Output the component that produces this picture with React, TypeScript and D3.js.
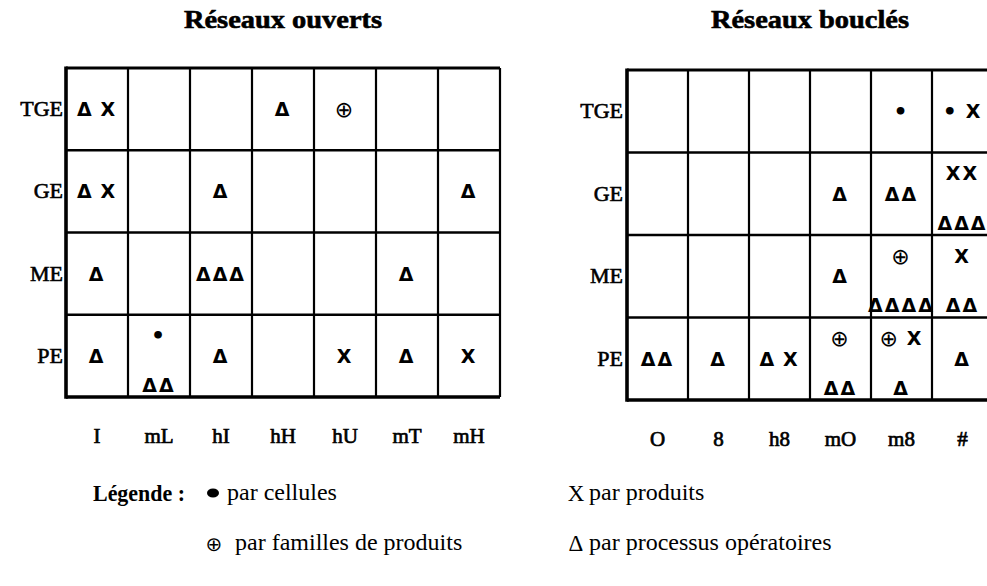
import React from "react";
import * as d3 from "d3";

const rows = ["TGE", "GE", "ME", "PE"];
const openCols = ["I", "mL", "hI", "hH", "hU", "mT", "mH"];
const loopCols = ["O", "8", "h8", "mO", "m8", "#"];

// [row, col, top, middle, bottom]
const openCells = [
  ["TGE", "I", "", "Δ X", ""],
  ["TGE", "hH", "", "Δ", ""],
  ["TGE", "hU", "", "⊕", ""],
  ["GE", "I", "", "Δ X", ""],
  ["GE", "hI", "", "Δ", ""],
  ["GE", "mH", "", "Δ", ""],
  ["ME", "I", "", "Δ", ""],
  ["ME", "hI", "", "ΔΔΔ", ""],
  ["ME", "mT", "", "Δ", ""],
  ["PE", "I", "", "Δ", ""],
  ["PE", "mL", "•", "", "ΔΔ"],
  ["PE", "hI", "", "Δ", ""],
  ["PE", "hU", "", "X", ""],
  ["PE", "mT", "", "Δ", ""],
  ["PE", "mH", "", "X", ""],
];

const loopCells = [
  ["TGE", "m8", "", "•", ""],
  ["TGE", "#", "", "• X", ""],
  ["GE", "mO", "", "Δ", ""],
  ["GE", "m8", "", "ΔΔ", ""],
  ["GE", "#", "XX", "", "ΔΔΔ"],
  ["ME", "mO", "", "Δ", ""],
  ["ME", "m8", "⊕", "", "ΔΔΔΔ"],
  ["ME", "#", "X", "", "ΔΔ"],
  ["PE", "O", "", "ΔΔ", ""],
  ["PE", "8", "", "Δ", ""],
  ["PE", "h8", "", "Δ X", ""],
  ["PE", "mO", "⊕", "", "ΔΔ"],
  ["PE", "m8", "⊕ X", "", "Δ"],
  ["PE", "#", "", "Δ", ""],
];

const legendItems = [
  ["●", "par cellules"],
  ["X", "par produits"],
  ["⊕", "par familles de produits"],
  ["Δ", "par processus opératoires"],
];

const serif = "'Liberation Serif', 'Times New Roman', serif";
const sym = "'DejaVu Sans', sans-serif";
const glyphSize = { "Δ": 19, X: 19, "⊕": 22, "•": 22, " ": 14 };

function Grid({ title, cols, cells, x0, x1, y0, y1, labelX }) {
  const x = d3.scaleBand().domain(cols).range([x0, x1]);
  const y = d3.scaleBand().domain(rows).range([y0, y1]);
  const bw = x.bandwidth();
  const bh = y.bandwidth();
  return (
    <g>
      <text x={(x0 + x1) / 2} y={28} textAnchor="middle" fontFamily={serif}
        fontWeight="bold" fontSize={25} textLength={198} lengthAdjust="spacingAndGlyphs"
        stroke="#000" strokeWidth={0.6}>
        {title}
      </text>
      {rows.map((r) => (
        <text key={r} x={labelX} y={y(r) + bh / 2 + 7} textAnchor="end"
          fontFamily={serif} fontSize={22} stroke="#000" strokeWidth={0.6}>
          {r}
        </text>
      ))}
      {cols.map((c) => (
        <text key={c} x={x(c) + bw / 2} y={y1 + 46} textAnchor="middle"
          fontFamily={serif} fontSize={21} stroke="#000" strokeWidth={0.7}>
          {c}
        </text>
      ))}
      {cols.slice(1).map((c) => (
        <line key={c} x1={x(c)} x2={x(c)} y1={y0} y2={y1} stroke="#000" strokeWidth={2.2} />
      ))}
      <line x1={x1} x2={x1} y1={y0} y2={y1} stroke="#000" strokeWidth={2.2} />
      {rows.slice(1).map((r) => (
        <line key={r} x1={x0} x2={x1} y1={y(r)} y2={y(r)} stroke="#000" strokeWidth={2.4} />
      ))}
      <line x1={x0} x2={x1} y1={y0} y2={y0} stroke="#000" strokeWidth={2.8} />
      <line x1={x0} x2={x1} y1={y1} y2={y1} stroke="#000" strokeWidth={3.6} />
      <line x1={x0} x2={x0} y1={y0 - 1.4} y2={y1 + 1.8} stroke="#000" strokeWidth={3.6} />
      {cells.map(([r, c, top, mid, bot], i) => {
        const cx = x(c) + bw / 2;
        const parts = [
          [top, 0.25],
          [mid, 0.5],
          [bot, 0.85],
        ];
        return parts
          .filter((p) => p[0])
          .map(([s, f], j) => (
            <text key={i + "-" + j} x={cx} y={y(r) + bh * f} textAnchor="middle"
              dominantBaseline="central" fontFamily={sym} fontWeight="bold"
              letterSpacing={2}>
              {s.split("").map((ch, k) => (
                <tspan key={k} fontSize={glyphSize[ch]}
                  fontWeight={ch === "⊕" ? "normal" : "bold"}>
                  {ch}
                </tspan>
              ))}
            </text>
          ));
      })}
    </g>
  );
}

export default function App() {
  const legendX = [207, 569, 207, 569];
  const legendY = [493, 493, 543, 543];
  return (
    <svg width={987} height={586} style={{ position: "absolute", left: 0, top: 0, background: "#fff" }}>
      <rect width={987} height={586} fill="#fff" />
      <Grid title="Réseaux ouverts" cols={openCols} cells={openCells}
        x0={66} x1={500} y0={68} y1={397} labelX={63} />
      <Grid title="Réseaux bouclés" cols={loopCols} cells={loopCells}
        x0={627} x1={993} y0={70} y1={400} labelX={623} />
      <text x={93} y={501} fontFamily={serif} fontWeight="bold" fontSize={24}
        textLength={92} lengthAdjust="spacingAndGlyphs">Légende :</text>
      {legendItems.map(([s, label], i) => (
        <g key={label}>
          {s === "●" ? (
            <ellipse cx={legendX[i] + 6} cy={legendY[i]} rx={6} ry={4.5} fill="#000" />
          ) : (
            <text x={legendX[i] + 7} y={legendY[i] + 8} textAnchor="middle"
              fontFamily={s === "⊕" ? sym : serif} fontSize={s === "⊕" ? 20 : 23}>
              {s}
            </text>
          )}
          <text x={legendX[i] + (i === 2 ? 28 : 20)} y={legendY[i] + 7} fontFamily={serif}
            fontSize={24}>
            {label}
          </text>
        </g>
      ))}
    </svg>
  );
}
